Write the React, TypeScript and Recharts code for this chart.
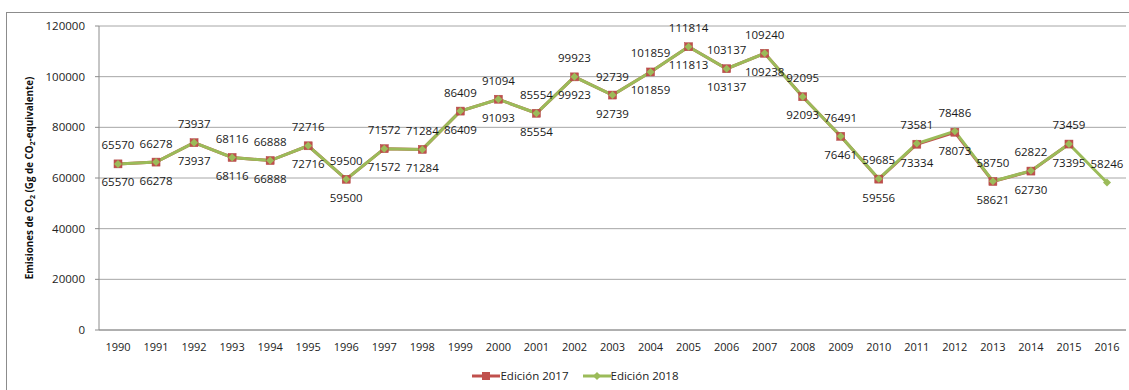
import { LineChart, Line, XAxis, YAxis, CartesianGrid, LabelList } from "recharts";

const years = [
  "1990", "1991", "1992", "1993", "1994", "1995", "1996", "1997", "1998", "1999",
  "2000", "2001", "2002", "2003", "2004", "2005", "2006", "2007", "2008", "2009",
  "2010", "2011", "2012", "2013", "2014", "2015", "2016",
];

const edicion2017 = [
  65570, 66278, 73937, 68116, 66888, 72716, 59500, 71572, 71284, 86409,
  91093, 85554, 99923, 92739, 101859, 111813, 103137, 109238, 92093, 76461,
  59556, 73334, 78073, 58621, 62730, 73395, null,
];

const edicion2018 = [
  65570, 66278, 73937, 68116, 66888, 72716, 59500, 71572, 71284, 86409,
  91094, 85554, 99923, 92739, 101859, 111814, 103137, 109240, 92095, 76491,
  59685, 73581, 78486, 58750, 62822, 73459, 58246,
];

const yTicks = [0, 20000, 40000, 60000, 80000, 100000, 120000];

const RED = "#C0504D";
const GREEN = "#9BBB59";
const FONT = "'Open Sans', sans-serif";

const data = years.map((y, i) => ({ year: y, e2017: edicion2017[i], e2018: edicion2018[i] }));

const SquareDot = (props: any) => {
  const { cx, cy, index } = props;
  if (cx == null || cy == null) return <g key={`s${index}`} />;
  return <rect key={`s${index}`} x={cx - 4} y={cy - 4} width={8} height={8} fill={RED} stroke="#B04440" strokeWidth={0.5} />;
};

const DiamondDot = (props: any) => {
  const { cx, cy, index } = props;
  if (cx == null || cy == null) return <g key={`d${index}`} />;
  const r = 4;
  return (
    <polygon
      key={`d${index}`}
      points={`${cx},${cy - r} ${cx + r},${cy} ${cx},${cy + r} ${cx - r},${cy}`}
      fill={GREEN}
    />
  );
};

const makeLabel = (dy: number) => (props: any) => {
  const { x, y, value } = props;
  if (value == null || x == null || y == null) return null;
  return (
    <text x={x} y={y + dy} dy="0.35em" textAnchor="middle" fontFamily={FONT} fontSize={11.5} fill="#1a1a1a">
      {value}
    </text>
  );
};

const LegendBox = () => (
  <div
    style={{
      position: "absolute",
      left: 0,
      top: 368,
      width: 1129,
      display: "flex",
      justifyContent: "center",
      gap: 14,
      fontFamily: FONT,
      fontSize: 11.5,
      color: "#222",
      paddingLeft: 22,
      boxSizing: "border-box",
    }}
  >
    <div style={{ display: "flex", alignItems: "center" }}>
      <svg width={28} height={10}>
        <line x1={0} y1={5} x2={28} y2={5} stroke={RED} strokeWidth={3} />
        <rect x={10} y={1} width={8} height={8} fill={RED} />
      </svg>
      <span>Edición 2017</span>
    </div>
    <div style={{ display: "flex", alignItems: "center" }}>
      <svg width={28} height={10}>
        <line x1={0} y1={5} x2={28} y2={5} stroke={GREEN} strokeWidth={3} />
        <polygon points="14,1 18,5 14,9 10,5" fill={GREEN} />
      </svg>
      <span>Edición 2018</span>
    </div>
  </div>
);

export default function App() {
  return (
    <div style={{ position: "absolute", left: 0, top: 0, width: 1129, height: 390, overflow: "hidden", background: "#fff" }}>
      <div
        style={{
          position: "absolute",
          left: 6,
          top: 12,
          width: 1140,
          height: 400,
          border: "1px solid #8c8c8c",
          boxSizing: "border-box",
        }}
      />
      <LineChart width={1129} height={390} data={data} margin={{ top: 26, right: 3, bottom: 40, left: 0 }}>
        <CartesianGrid vertical={false} stroke="#a6a6a6" />
        <XAxis
          dataKey="year"
          interval={0}
          tickLine={false}
          tickSize={6}
          tickMargin={7}
          height={20}
          padding={{ left: 19, right: 19 }}
          stroke="#8c8c8c"
          tick={{ fontFamily: FONT, fontSize: 11, fill: "#222" }}
        />
        <YAxis
          domain={[0, 120000]}
          ticks={yTicks}
          width={99}
          tickSize={4}
          tickMargin={10}
          stroke="#8c8c8c"
          tick={{ fontFamily: FONT, fontSize: 11.5, fill: "#222" }}
        />
        <Line
          dataKey="e2017"
          name="Edición 2017"
          stroke={RED}
          strokeWidth={3}
          dot={SquareDot}
          activeDot={false}
          isAnimationActive={false}
        >
          <LabelList dataKey="e2017" content={makeLabel(18.5)} />
        </Line>
        <Line
          dataKey="e2018"
          name="Edición 2018"
          stroke={GREEN}
          strokeWidth={3}
          dot={DiamondDot}
          activeDot={false}
          isAnimationActive={false}
        >
          <LabelList dataKey="e2018" content={makeLabel(-18.5)} />
        </Line>
        <text
          transform="translate(30,178) rotate(-90)"
          textAnchor="middle"
          dy="0.35em"
          fontFamily={FONT}
          fontSize={9.8}
          fontWeight="bold"
          fill="#111"
        >
          Emisiones de CO
          <tspan fontSize={7} dy={2}>2</tspan>
          <tspan dy={-2}> (Gg de CO</tspan>
          <tspan fontSize={7} dy={2}>2</tspan>
          <tspan dy={-2}>-equivalente)</tspan>
        </text>
      </LineChart>
      <LegendBox />
    </div>
  );
}
